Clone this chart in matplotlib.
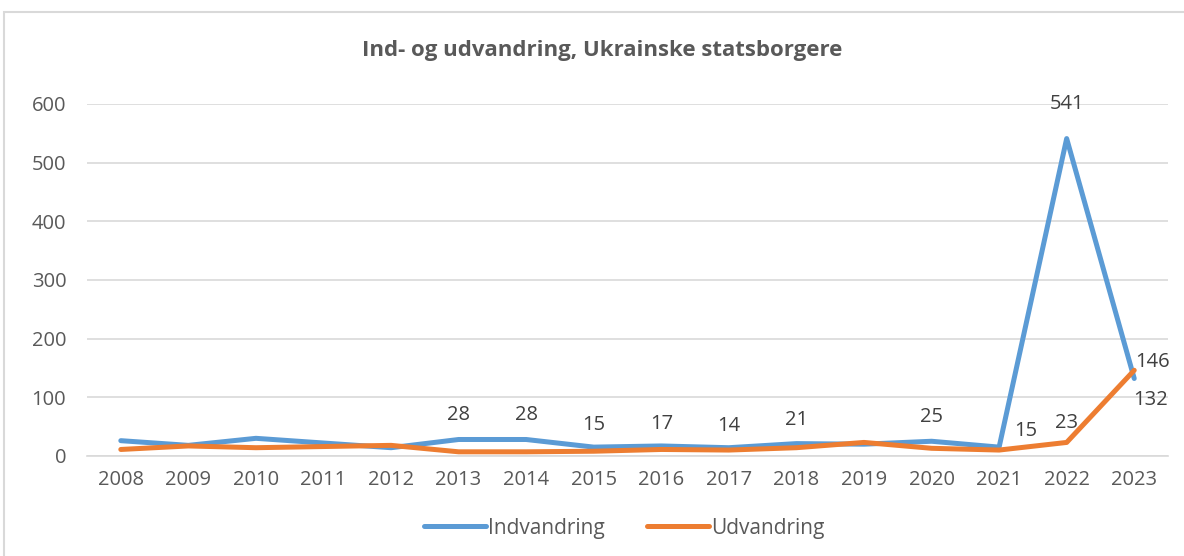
import matplotlib.pyplot as plt
from matplotlib.patches import Rectangle

plt.rcParams['font.family'] = ['Open Sans', 'DejaVu Sans']

# data
years = ['2008', '2009', '2010', '2011', '2012', '2013', '2014', '2015',
         '2016', '2017', '2018', '2019', '2020', '2021', '2022', '2023']
indvandring = [26, 18, 30, 22, 14, 28, 28, 15, 17, 14, 21, 20, 25, 15, 541, 132]
udvandring = [11, 17, 14, 16, 18, 7, 7, 8, 11, 10, 14, 23, 13, 10, 23, 146]

# which points get a label, and where (offset in px)
blue_labels = {5: (0, 24), 6: (0, 24), 7: (0, 22), 8: (0, 22), 9: (0, 22),
               10: (0, 24), 12: (0, 24), 13: (27, 16), 14: (0, 35), 15: (16, -22)}
orange_labels = {14: (0, 19), 15: (18, 8)}

blue = '#5B9BD5'
orange = '#ED7D31'
grey = '#595959'

fig = plt.figure(figsize=(11.84, 5.56), dpi=100)
ax = fig.add_axes([0.0735, 0.18, 0.913, 0.633])

x = list(range(len(years)))
ax.plot(x, indvandring, color=blue, lw=3.6, label='Indvandring', solid_capstyle='round')
ax.plot(x, udvandring, color=orange, lw=3.6, label='Udvandring', solid_capstyle='round')

for i, (dx, dy) in blue_labels.items():
    ax.annotate(str(indvandring[i]), (x[i], indvandring[i]), xytext=(dx, dy),
                textcoords='offset pixels', ha='center', va='center',
                fontsize=14.5, color='#404040', annotation_clip=False)
for i, (dx, dy) in orange_labels.items():
    ax.annotate(str(udvandring[i]), (x[i], udvandring[i]), xytext=(dx, dy),
                textcoords='offset pixels', ha='center', va='center',
                fontsize=14.5, color='#404040', annotation_clip=False)

ax.set_xlim(-0.5, len(years) - 0.5)
ax.set_ylim(0, 600)
ax.set_yticks(range(0, 601, 100))
ax.set_xticks(x)
ax.set_xticklabels(years)
ax.tick_params(axis='both', length=0, labelsize=14.5, labelcolor=grey, pad=10)
ax.tick_params(axis='y', pad=15)
ax.grid(axis='y', color='#D9D9D9', lw=1.2)
ax.set_axisbelow(True)
for s in ['top', 'right', 'left']:
    ax.spines[s].set_visible(False)
ax.spines['bottom'].set_color('#D9D9D9')
ax.spines['bottom'].set_linewidth(1.2)

fig.text(0.509, 0.91, 'Ind- og udvandring, Ukrainske statsborgere', ha='center',
         va='center', fontsize=16, fontweight='bold', color=grey)

ax.legend(loc='center', bbox_to_anchor=(0.497, -0.205), ncol=2, frameon=False,
          fontsize=15, labelcolor=grey, handlelength=3.0, handletextpad=0.1,
          columnspacing=2.0)

fig.patches.append(Rectangle((4 / 1184, -0.01), 1.0, 1 - 12 / 556 + 0.01,
                             transform=fig.transFigure, fill=False,
                             edgecolor='#D9D9D9', lw=1.5))

fig.savefig('out.png', dpi=100)
